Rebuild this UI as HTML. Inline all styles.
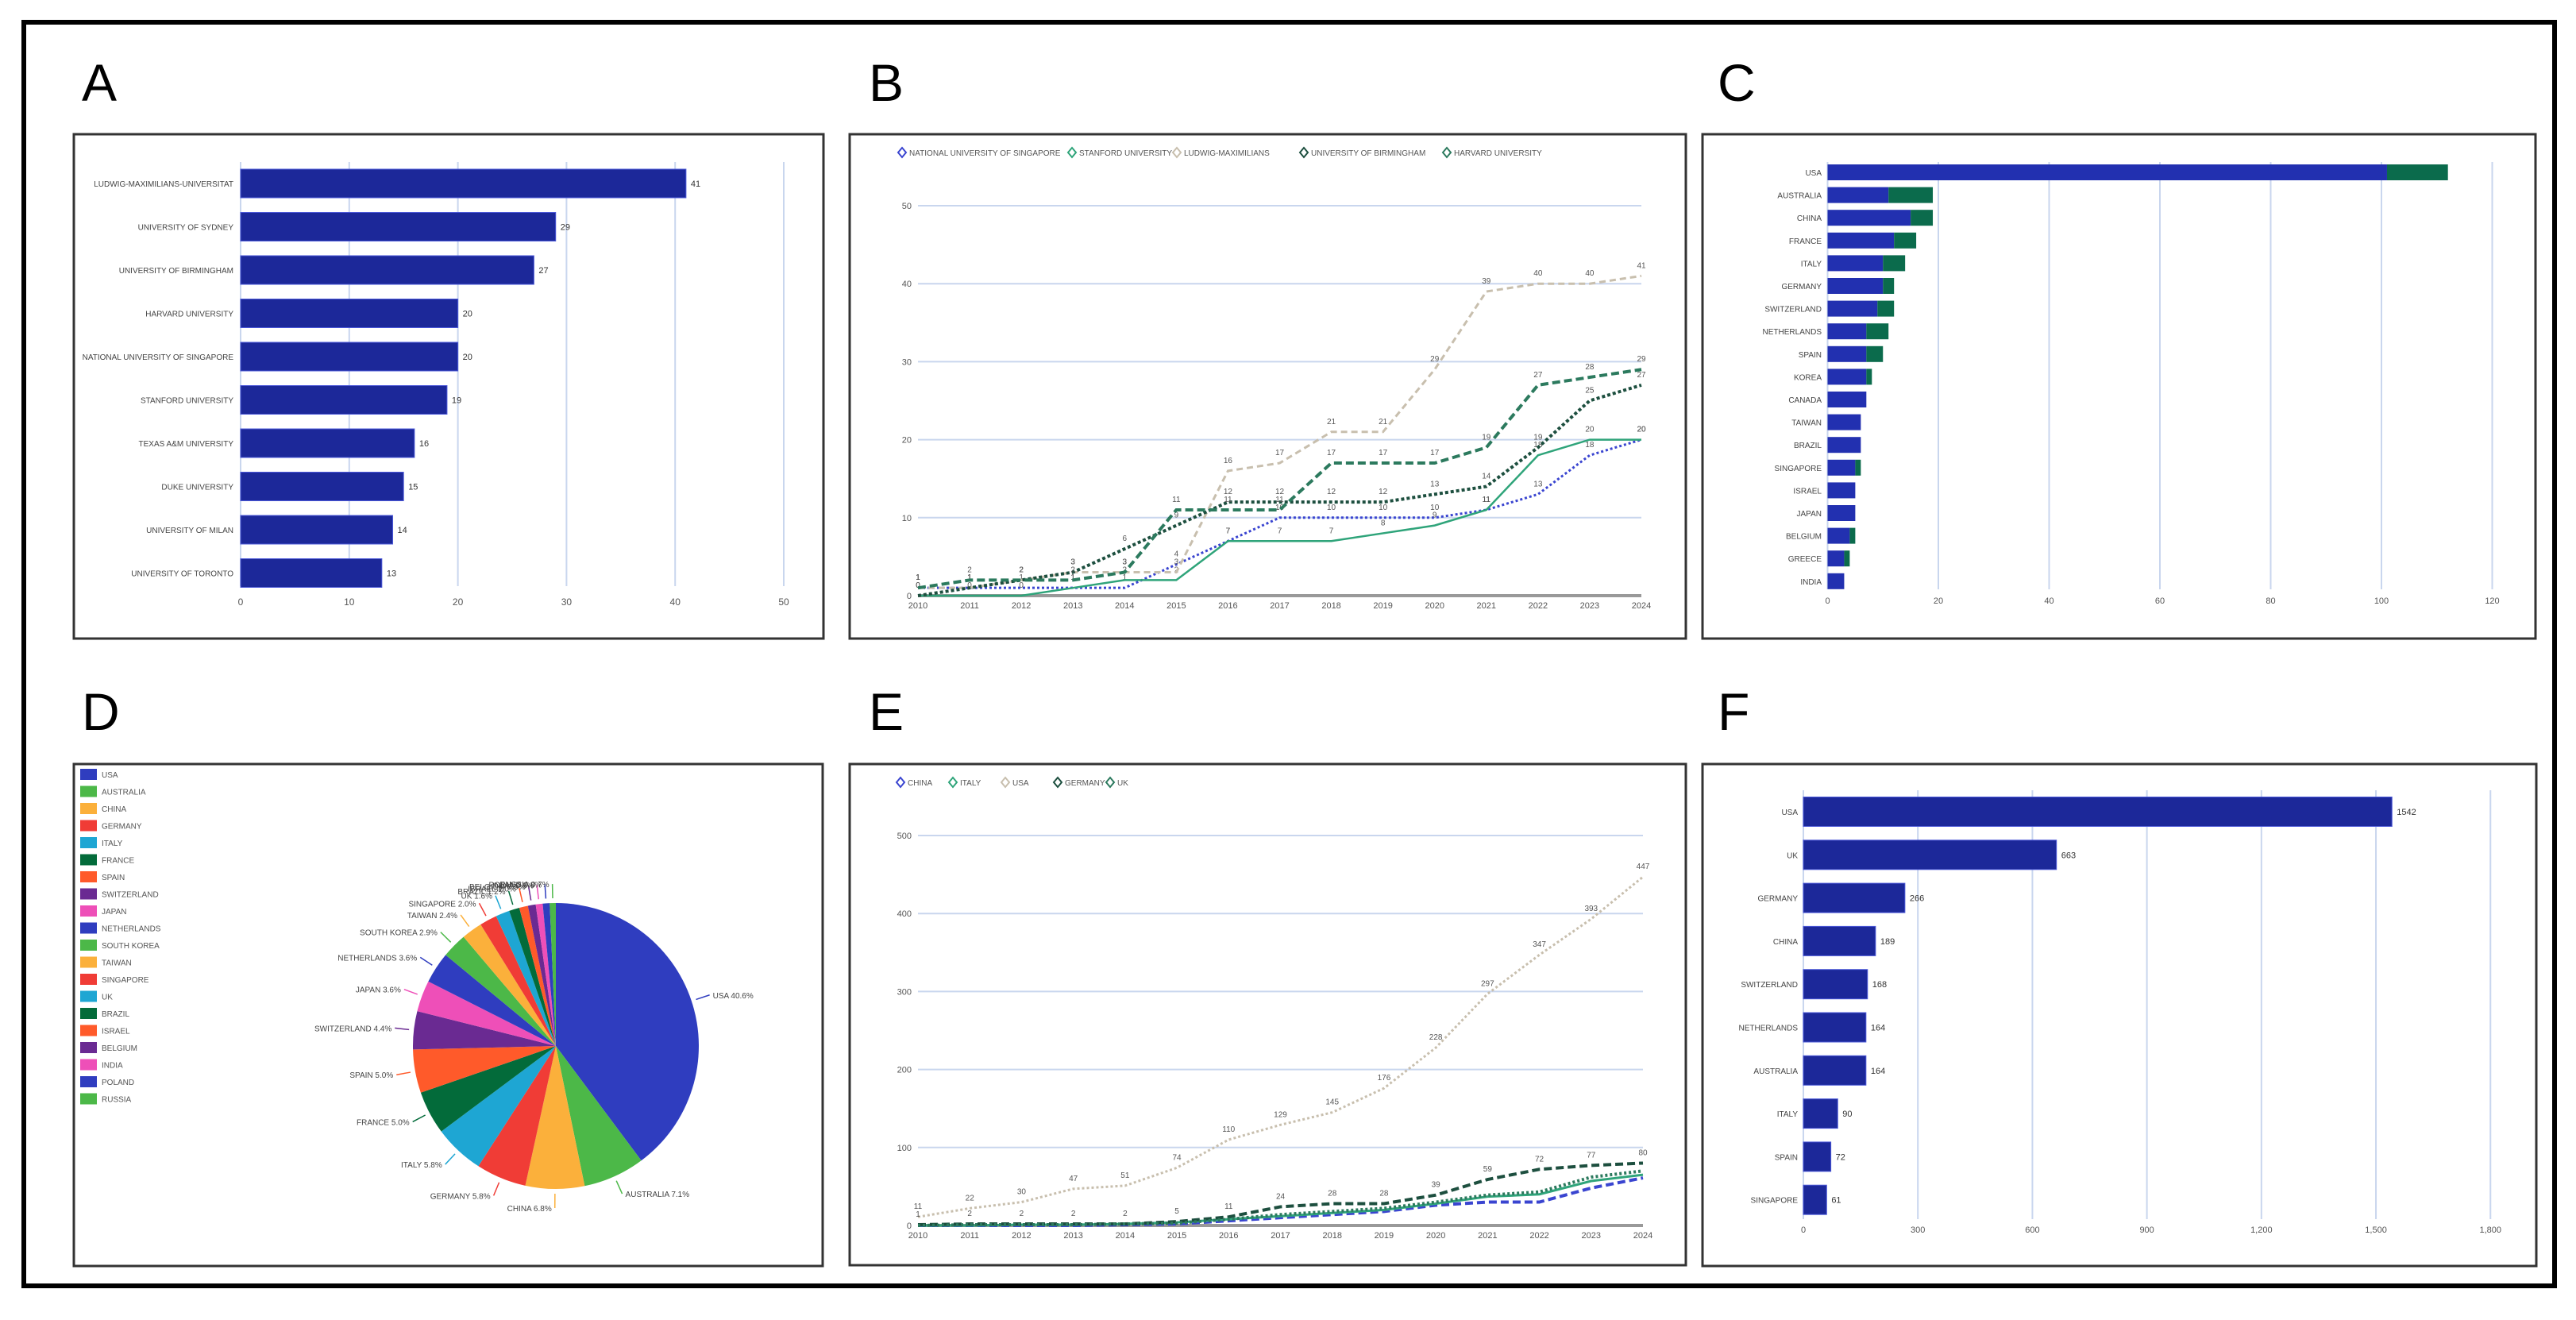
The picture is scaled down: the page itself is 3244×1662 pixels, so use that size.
<!DOCTYPE html>
<html><head><meta charset="utf-8">
<style>
html,body{margin:0;padding:0;background:#fff;}
svg{display:block;font-family:"Liberation Sans",sans-serif;}
</style></head>
<body>
<svg id="fig" width="3244" height="1662" viewBox="0 0 3244 1662" xmlns="http://www.w3.org/2000/svg">
<rect x="0" y="0" width="3244" height="1662" fill="#fff"/>
<rect x="30" y="28" width="3187" height="1591" fill="none" stroke="#000" stroke-width="6"/>
<g font-size="66" fill="#000">
<text x="103" y="127">A</text>
<text x="1094" y="127">B</text>
<text x="2163" y="127">C</text>
<text x="103" y="919">D</text>
<text x="1094" y="919">E</text>
<text x="2163" y="919">F</text>
</g>
<g fill="none" stroke="#333" stroke-width="3">
<rect x="93" y="169" width="944" height="635"/>
<rect x="1070" y="169" width="1053" height="635"/>
<rect x="2144" y="169" width="1049" height="635"/>
<rect x="93" y="962" width="943" height="632"/>
<rect x="1070" y="962" width="1053" height="631"/>
<rect x="2144" y="962" width="1050" height="632"/>
</g>
</svg>
<script>
// ---------- Panel A data ----------
const aCats=["LUDWIG-MAXIMILIANS-UNIVERSITAT","UNIVERSITY OF SYDNEY","UNIVERSITY OF BIRMINGHAM","HARVARD UNIVERSITY","NATIONAL UNIVERSITY OF SINGAPORE","STANFORD UNIVERSITY","TEXAS A&M UNIVERSITY","DUKE UNIVERSITY","UNIVERSITY OF MILAN","UNIVERSITY OF TORONTO"];
const aVals=[41,29,27,20,20,19,16,15,14,13];
const aTicks=[0,10,20,30,40,50];
// ---------- Panel B data ----------
const bYears=["2010","2011","2012","2013","2014","2015","2016","2017","2018","2019","2020","2021","2022","2023","2024"];
const bNames=["NATIONAL UNIVERSITY OF SINGAPORE","STANFORD UNIVERSITY","LUDWIG-MAXIMILIANS","UNIVERSITY OF BIRMINGHAM","HARVARD UNIVERSITY"];
const bS1=[1,1,1,1,1,4,7,10,10,10,10,11,13,18,20];
const bS2=[0,0,0,1,2,2,7,7,7,8,9,11,18,20,20];
const bS3=[1,1,2,3,3,3,16,17,21,21,29,39,40,40,41];
const bS4=[0,1,2,3,6,9,12,12,12,12,13,14,19,25,27];
const bS5=[1,2,2,2,3,11,11,11,17,17,17,19,27,28,29];
const bTicks=[0,10,20,30,40,50];
// ---------- Panel C data ----------
const cCats=["USA","AUSTRALIA","CHINA","FRANCE","ITALY","GERMANY","SWITZERLAND","NETHERLANDS","SPAIN","KOREA","CANADA","TAIWAN","BRAZIL","SINGAPORE","ISRAEL","JAPAN","BELGIUM","GREECE","INDIA"];
const cBlue=[101,11,15,12,10,10,9,7,7,7,7,6,6,5,5,5,4,3,3];
const cGreen=[11,8,4,4,4,2,3,4,3,1,0,0,0,1,0,0,1,1,0];
const cTicks=[0,20,40,60,80,100,120];
// ---------- Panel D data ----------
const dCats=["USA","AUSTRALIA","CHINA","GERMANY","ITALY","FRANCE","SPAIN","SWITZERLAND","JAPAN","NETHERLANDS","SOUTH KOREA","TAIWAN","SINGAPORE","UK","BRAZIL","ISRAEL","BELGIUM","INDIA","POLAND","RUSSIA"];
const dVals=[40.6,7.1,6.8,5.8,5.8,5.0,5.0,4.4,3.6,3.6,2.9,2.4,2.0,1.6,1.2,1.0,0.9,0.8,0.8,0.7];
// ---------- Panel E data ----------
const eYears=["2010","2011","2012","2013","2014","2015","2016","2017","2018","2019","2020","2021","2022","2023","2024"];
const eNames=["CHINA","ITALY","USA","GERMANY","UK"];
const eS1=[0,0,0,0,1,2,6,10,14,18,26,30,30,48,61];
const eS2=[0,0,1,1,2,4,8,12,16,20,28,37,40,57,65];
const eS3=[11,22,30,47,51,74,110,129,145,176,228,297,347,393,447];
const eS4=[1,2,2,2,2,5,11,24,28,28,39,59,72,77,80];
const eS5=[0,1,1,1,2,3,8,14,18,22,30,39,43,62,70];
const eTicks=[0,100,200,300,400,500];
// ---------- Panel F data ----------
const fCats=["USA","UK","GERMANY","CHINA","SWITZERLAND","NETHERLANDS","AUSTRALIA","ITALY","SPAIN","SINGAPORE"];
const fVals=[1542,663,266,189,168,164,164,90,72,61];
const fTicks=[0,300,600,900,1200,1500,1800];

const NS="http://www.w3.org/2000/svg";
const svg=document.getElementById('fig');
function mk(tag,attrs,parent){const e=document.createElementNS(NS,tag);for(const k in attrs)e.setAttribute(k,attrs[k]);(parent||svg).appendChild(e);return e;}
function grp(name){const g=mk('g',{});return g;}
const BAR="#1c2899", GRID="#c9d6ee", TXT="#555";

// ===== Panel A =====
(function(){
 const g=grp('chart-a');
 const x=v=>303+v*13.68, y0=204, y1=738;
 aTicks.forEach(t=>{
  const l=mk('line',{x1:x(t),x2:x(t),y1:y0,y2:y1,stroke:GRID,'stroke-width':2},g);
  
  
  const tx=mk('text',{x:x(t),y:762,'font-size':12,fill:TXT,'text-anchor':'middle'},g);tx.textContent=t;
  
  
 });
 aVals.forEach((v,i)=>{
  const cy=231+i*54.5;
  const r=mk('rect',{x:x(0),y:cy-18,width:x(v)-x(0),height:36,fill:BAR,stroke:'#4a57d8','stroke-width':1},g);
  
  
  const t=mk('text',{x:x(v)+6,y:cy+4,'font-size':11,fill:'#333'},g);t.textContent=v;
  
  
  const c=mk('text',{x:294,y:cy+4,'font-size':10,fill:'#444','text-anchor':'end'},g);c.textContent=aCats[i];
  
  
 });
})();

// ===== Line chart helper =====
function lineChart(name,years,series,names,ticks,x0,x1,base,unitPx,colors,dashes,widths,legendXs,legendY,labelled){
 const g=grp(name);
 const n=years.length, x=i=>x0+i*(x1-x0)/(n-1), y=v=>base-v*unitPx;
 ticks.forEach(t=>{
  const l=mk('line',{x1:x0,x2:x1,y1:y(t),y2:y(t),stroke:t===0?'#999':GRID,'stroke-width':t===0?4:2},g);
  
  
  const tx=mk('text',{x:x0-8,y:y(t)+4,'font-size':11,fill:TXT,'text-anchor':'end'},g);tx.textContent=t;
  
  
 });
 years.forEach((yr,i)=>{
  const tx=mk('text',{x:x(i),y:base+16,'font-size':11,fill:TXT,'text-anchor':'middle'},g);tx.textContent=yr;
  
  
 });
 series.forEach((s,k)=>{
  const p=mk('polyline',{points:s.map((v,i)=>x(i)+','+y(v)).join(' '),fill:'none',stroke:colors[k],'stroke-width':widths[k],'stroke-dasharray':dashes[k]},g);
  
  
  if(labelled[k]) s.forEach((v,i)=>{
   const t=mk('text',{x:x(i),y:y(v)-10,'font-size':10,fill:'#555','text-anchor':'middle'},g);t.textContent=v;
   
   
  });
  const lx=legendXs[k];
  const d=mk('path',{d:`M${lx},${legendY-6} l5,6 l-5,6 l-5,-6 z`,fill:'none',stroke:colors[k],'stroke-width':2},g);
  
  
  const lt=mk('text',{x:lx+9,y:legendY+4,'font-size':10,fill:'#555'},g);lt.textContent=names[k];
  
  
 });
}
const lineCols=["#3a45d0","#2fa47a","#c8bfae","#1d4f3f","#2c7a5e"];
lineChart('chart-b',bYears,[bS1,bS2,bS3,bS4,bS5],bNames,bTicks,1156,2067,750,9.82,lineCols,["3,3","none","8,5","4,3","10,5"],[3,2.5,3,4,4],[1136,1350,1482,1642,1822],192,[true,true,true,true,true]);
lineChart('chart-e',eYears,[eS1,eS2,eS3,eS4,eS5],eNames,eTicks,1156,2069,1543,0.982,lineCols,["10,5","none","3,3","10,5","3,3"],[4,3,3,4,4],[1134,1200,1266,1332,1398],985,[false,false,true,true,false]);

// ===== Panel C =====
(function(){
 const g=grp('chart-c');
 const x=v=>2301.5+v*6.975;
 cTicks.forEach(t=>{
  const l=mk('line',{x1:x(t),x2:x(t),y1:204,y2:742,stroke:GRID,'stroke-width':2},g);
  
  
  const tx=mk('text',{x:x(t),y:760,'font-size':11,fill:TXT,'text-anchor':'middle'},g);tx.textContent=t;
  
  
 });
 cBlue.forEach((v,i)=>{
  const cy=217+i*28.6;
  const r=mk('rect',{x:x(0),y:cy-10,width:x(v)-x(0),height:20,fill:'#2230b0'},g);
  
  
  const r2=mk('rect',{x:x(v),y:cy-10,width:x(v+cGreen[i])-x(v),height:20,fill:'#0b6b4c'},g);
  
  
  const c=mk('text',{x:2294,y:cy+4,'font-size':10,fill:'#444','text-anchor':'end'},g);c.textContent=cCats[i];
  
  
 });
})();

// ===== Panel D =====
(function(){
 const g=grp('chart-d');
 const cols=["#2f3dbf","#4cb848","#fbb03b","#f03c36","#1ea6d3","#036b3a","#ff5a2a","#6a2a92","#ee4fb8"];
 const cx=700,cy=1317,R=180;
 const tot=dVals.reduce((a,b)=>a+b,0);
 let a=0;
 dVals.forEach((v,i)=>{
  const a0=a, a1=a+v/tot*2*Math.PI; a=a1;
  const p=(t,r)=>[cx+r*Math.sin(t),cy-r*Math.cos(t)];
  const [x0,y0]=p(a0,R),[x1,y1]=p(a1,R);
  const col=cols[i%cols.length];
  const s=mk('path',{d:`M${cx},${cy} L${x0},${y0} A${R},${R} 0 ${a1-a0>Math.PI?1:0} 1 ${x1},${y1} Z`,fill:col},g);
  
  
  const am=(a0+a1)/2;
  const [lx0,ly0]=p(am,R+6),[lx1,ly1]=p(am,R+24);
  const ln=mk('line',{x1:lx0,y1:ly0,x2:lx1,y2:ly1,stroke:col,'stroke-width':1.5},g);
  
  
  const right=Math.sin(am)>=0;
  const t=mk('text',{x:lx1+(right?4:-4),y:ly1+4,'font-size':10,fill:'#444','text-anchor':right?'start':'end'},g);
  t.textContent=dCats[i]+" "+v.toFixed(1)+"%";
  
  
  const ly=975+i*21.5;
  const sw=mk('rect',{x:101,y:ly-7,width:21,height:14,fill:col},g);
  
  
  const lt=mk('text',{x:128,y:ly+4,'font-size':10,fill:'#555'},g);lt.textContent=dCats[i];
  
  
 });
})();

// ===== Panel F =====
(function(){
 const g=grp('chart-f');
 const x=v=>2271+v*0.4807;
 fTicks.forEach(t=>{
  const l=mk('line',{x1:x(t),x2:x(t),y1:995,y2:1535,stroke:GRID,'stroke-width':2},g);
  
  
  const tx=mk('text',{x:x(t),y:1552,'font-size':11,fill:TXT,'text-anchor':'middle'},g);tx.textContent=t.toLocaleString('en-US');
  
  
 });
 fVals.forEach((v,i)=>{
  const cy=1022+i*54.3;
  const r=mk('rect',{x:x(0),y:cy-18.5,width:x(v)-x(0),height:37,fill:BAR,stroke:'#4a57d8','stroke-width':1},g);
  
  
  const t=mk('text',{x:x(v)+6,y:cy+4,'font-size':11,fill:'#333'},g);t.textContent=v;
  
  
  const c=mk('text',{x:2264,y:cy+4,'font-size':10,fill:'#444','text-anchor':'end'},g);c.textContent=fCats[i];
  
  
 });
})();
</script>
</body></html>
